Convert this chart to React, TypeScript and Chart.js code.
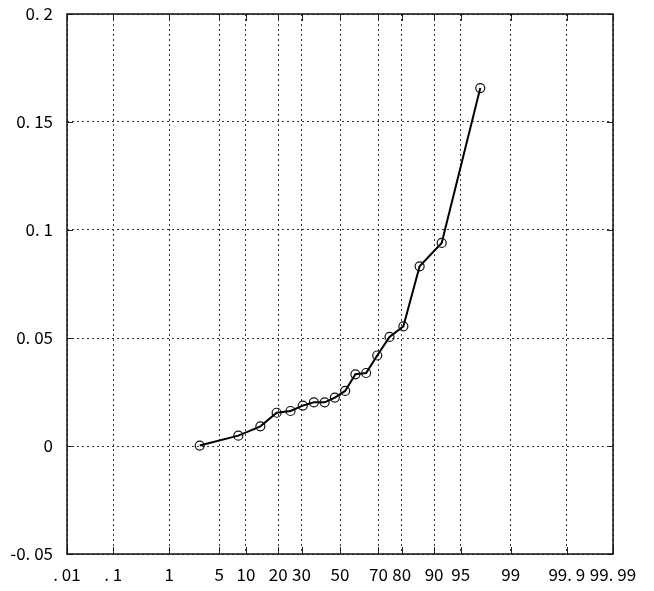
import React, { useEffect, useRef } from "react";
import { Chart, registerables } from "chart.js";

Chart.register(...registerables);

// Cumulative probability (%) of each plotted point
const cumulativePercent = [2.8, 8.3, 13.9, 19.4, 25, 30.6, 36.1, 41.7, 47.2, 52.8, 58.3, 63.9, 69.4, 75, 80.6, 86.1, 91.7, 97.2];
// Observed values
const observedValues = [0.0002, 0.0048, 0.0091, 0.0154, 0.0162, 0.0187, 0.0202, 0.0202, 0.0224, 0.0255, 0.0332, 0.0338, 0.0419, 0.0505, 0.0554, 0.0832, 0.094, 0.1657];

// Probability axis ticks (%)
const xTickPercents = [0.01, 0.1, 1, 5, 10, 20, 30, 50, 70, 80, 90, 95, 99, 99.9, 99.99];
const xTickLabels = [". 01", ". 1", "1", "5", "10", "20", "30", "50", "70", "80", "90", "95", "99", "99. 9", "99. 99"];

// Value axis ticks
const yTickValues = [-0.05, 0, 0.05, 0.1, 0.15, 0.2];
const yTickLabels = ["-0. 05", "0", "0. 05", "0. 1", "0. 15", "0. 2"];

// Inverse standard normal CDF (Acklam) — transform for the probability scale
function normInv(p: number): number {
  const a = [-3.969683028665376e1, 2.209460984245205e2, -2.759285104469687e2, 1.38357751867269e2, -3.066479806614716e1, 2.506628277459239];
  const b = [-5.447609879822406e1, 1.615858368580409e2, -1.556989798598866e2, 6.680131188771972e1, -1.328068155288572e1];
  const c = [-7.784894002430293e-3, -3.223964580411365e-1, -2.400758277161838, -2.549732539343734, 4.374664141464968, 2.938163982698783];
  const d = [7.784695709041462e-3, 3.224671290700398e-1, 2.445134137142996, 3.754408661907416];
  const pLow = 0.02425;
  const pHigh = 1 - pLow;
  let q: number, r: number;
  if (p < pLow) {
    q = Math.sqrt(-2 * Math.log(p));
    return (((((c[0] * q + c[1]) * q + c[2]) * q + c[3]) * q + c[4]) * q + c[5]) /
      ((((d[0] * q + d[1]) * q + d[2]) * q + d[3]) * q + 1);
  } else if (p <= pHigh) {
    q = p - 0.5;
    r = q * q;
    return (((((a[0] * r + a[1]) * r + a[2]) * r + a[3]) * r + a[4]) * r + a[5]) * q /
      (((((b[0] * r + b[1]) * r + b[2]) * r + b[3]) * r + b[4]) * r + 1);
  } else {
    q = Math.sqrt(-2 * Math.log(1 - p));
    return -(((((c[0] * q + c[1]) * q + c[2]) * q + c[3]) * q + c[4]) * q + c[5]) /
      ((((d[0] * q + d[1]) * q + d[2]) * q + d[3]) * q + 1);
  }
}
const toZ = (pct: number) => normInv(pct / 100);

const FONT = '"Noto Sans CJK JP", "Noto Sans", sans-serif';

const framePlugin = {
  id: "frame",
  afterDraw(chart: any) {
    const { ctx, chartArea: a, scales } = chart;
    ctx.save();
    ctx.strokeStyle = "#222";
    ctx.setLineDash([]);
    ctx.lineWidth = 1;
    // short tick marks inside the frame
    ctx.beginPath();
    xTickPercents.forEach((p) => {
      const x = Math.round(scales.x.getPixelForValue(toZ(p))) + 0.5;
      ctx.moveTo(x, a.bottom);
      ctx.lineTo(x, a.bottom - 7);
      ctx.moveTo(x, a.top);
      ctx.lineTo(x, a.top + 7);
    });
    yTickValues.forEach((v) => {
      const y = Math.round(scales.y.getPixelForValue(v)) + 0.5;
      ctx.moveTo(a.left, y);
      ctx.lineTo(a.left + 6, y);
      ctx.moveTo(a.right, y);
      ctx.lineTo(a.right - 6, y);
    });
    ctx.stroke();
    // frame
    ctx.lineWidth = 1.5;
    ctx.strokeStyle = "#111";
    ctx.strokeRect(a.left, a.top, a.right - a.left, a.bottom - a.top);
    ctx.restore();
  },
};

export default function App() {
  const canvasRef = useRef<HTMLCanvasElement | null>(null);

  useEffect(() => {
    if (!canvasRef.current) return;
    const data = cumulativePercent.map((p, i) => ({ x: toZ(p), y: observedValues[i] }));
    const chart = new Chart(canvasRef.current, {
      type: "line",
      data: {
        datasets: [
          {
            data,
            borderColor: "#000",
            borderWidth: 2,
            pointRadius: 4.5,
            pointBorderWidth: 1.2,
            pointBorderColor: "#111",
            pointBackgroundColor: "rgba(255,255,255,0)",
            tension: 0,
            fill: false,
          },
        ],
      },
      options: {
        animation: false,
        responsive: true,
        maintainAspectRatio: false,
        layout: { padding: { left: 0, right: 41, top: 14, bottom: 0 } },
        plugins: { legend: { display: false }, tooltip: { enabled: false } },
        scales: {
          x: {
            type: "linear",
            min: toZ(0.01),
            max: toZ(99.99),
            afterBuildTicks: (scale: any) => {
              scale.ticks = xTickPercents.map((p) => ({ value: toZ(p) }));
            },
            afterFit: (scale: any) => {
              scale.height = 37;
              scale.paddingLeft = 0;
              scale.paddingRight = 0;
            },
            border: { display: false, dash: [2, 3] },
            grid: {
              color: "#333",
              lineWidth: 1,
              drawTicks: false,
            },
            ticks: {
              autoSkip: false,
              maxRotation: 0,
              padding: 10,
              color: "#000",
              font: { family: FONT, size: 17 },
              callback: (_v: any, i: number) => xTickLabels[i],
            },
          },
          y: {
            type: "linear",
            min: -0.05,
            max: 0.2,
            afterBuildTicks: (scale: any) => {
              scale.ticks = yTickValues.map((v) => ({ value: v }));
            },
            afterFit: (scale: any) => {
              scale.width = 67;
              scale.paddingTop = 0;
              scale.paddingBottom = 0;
            },
            border: { display: false, dash: [2, 3] },
            grid: {
              color: "#333",
              lineWidth: 1,
              drawTicks: false,
            },
            ticks: {
              autoSkip: false,
              padding: 14,
              color: "#000",
              font: { family: FONT, size: 17 },
              callback: (_v: any, i: number) => yTickLabels[i],
            },
          },
        },
      },
      plugins: [framePlugin],
    });
    return () => chart.destroy();
  }, []);

  return (
    <div style={{ position: "fixed", left: 0, top: 0, width: 654, height: 591, background: "#fff" }}>
      <canvas ref={canvasRef} />
    </div>
  );
}
